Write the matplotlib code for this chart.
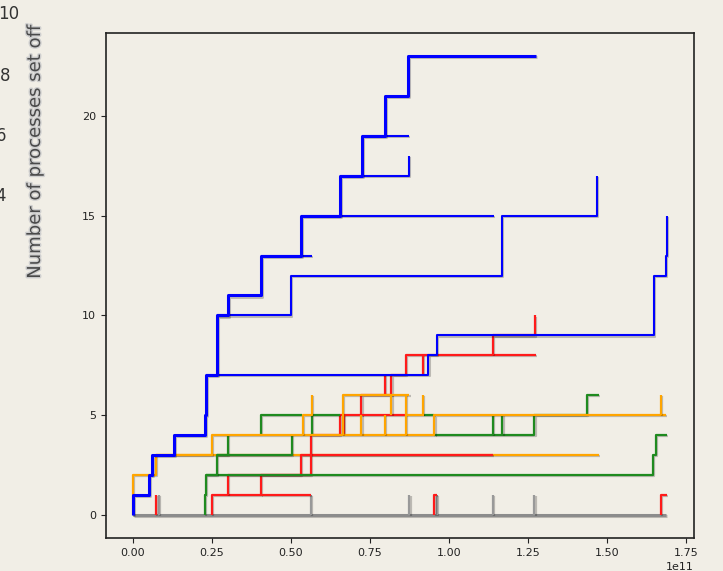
import matplotlib
matplotlib.use("Agg")
import matplotlib.pyplot as plt
import matplotlib.patheffects as pe

X_UNIT = 1e11  # x values below are in units of 1e11

# ---- grey (baseline + short ticks) ----
GREY_X = [[0, 1.687], [0.082, 0.082], [0.564, 0.564], [0.875, 0.875],
          [0.963, 0.963], [1.140, 1.140], [1.270, 1.270]]
GREY_Y = [[0, 0], [0, 1], [0, 1], [0, 1], [0, 1], [0, 1], [0, 1]]

# ---- orange, drawn underneath ----
ORANGE_LOW_X = [[0.072, 1.475]]
ORANGE_LOW_Y = [[3, 3]]

# ---- red ----
RED_X = [[0.072, 0.072],
         [0.250, 0.250, 0.404, 0.533, 1.140],
         [0.404, 0.564],
         [0.300, 0.300, 0.564, 0.654, 0.723, 0.818, 0.864, 1.276],
         [1.140, 1.140, 1.272],
         [0.669, 0.669],
         [0.796, 0.796],
         [0.917, 0.917],
         [0.723, 0.864],
         [0.954, 0.954, 0.963],
         [1.671, 1.671, 1.690]]
RED_Y = [[0, 1],
         [0, 1, 2, 3, 3],
         [1, 1],
         [1, 2, 4, 5, 6, 7, 8, 8],
         [8, 9, 10],
         [4, 5],
         [6, 7],
         [7, 8],
         [5, 5],
         [0, 1, 1],
         [0, 1, 1]]

# ---- green ----
GREEN_X = [[0.227, 0.227, 0.231, 1.646, 1.655, 1.688],
           [0.231, 0.266, 0.300],
           [0.266, 0.502],
           [0.404, 0.404, 0.534],
           [0.567, 0.567, 0.654],
           [0.922, 0.954],
           [0.954, 1.270, 1.437, 1.475],
           [1.140, 1.140],
           [1.169, 1.169]]
GREEN_Y = [[0, 1, 2, 3, 4, 4],
           [2, 3, 4],
           [3, 4],
           [4, 5, 5],
           [4, 5, 5],
           [5, 5],
           [4, 5, 6, 6],
           [4, 5],
           [4, 5]]

# ---- orange, drawn on top ----
ORANGE_X = [[0, 0, 0.072, 0.250, 0.954, 1.687],
            [0.537, 0.537, 0.567],
            [0.666, 0.666, 0.875],
            [0.723, 0.723],
            [0.796, 0.796],
            [0.864, 0.864],
            [0.818, 0.818],
            [0.917, 0.917],
            [0.864, 0.922],
            [1.671, 1.671]]
ORANGE_Y = [[0, 2, 3, 4, 5, 5],
            [4, 5, 6],
            [4, 6, 6],
            [4, 5],
            [4, 5],
            [4, 6],
            [5, 6],
            [5, 6],
            [5, 5],
            [5, 6]]

# ---- blue ----
BLUE_TRUNK_X = [0, 0, 0.051, 0.060, 0.129, 0.228, 0.231, 0.266, 0.300,
                0.404, 0.533, 0.654, 0.726, 0.796, 0.869, 1.276]
BLUE_TRUNK_Y = [0, 1, 2, 3, 4, 5, 7, 10, 11, 13, 15, 17, 19, 21, 23, 23]
BLUE_X = [[0.231, 0.935, 0.963, 1.649, 1.686, 1.689],
          [0.266, 0.501, 1.167, 1.468],
          [0.404, 0.567],
          [0.533, 1.143],
          [0.654, 0.872],
          [0.726, 0.872]]
BLUE_Y = [[7, 8, 9, 12, 13, 15],
          [10, 12, 15, 17],
          [13, 13],
          [15, 15],
          [17, 18],
          [19, 19]]

SIDE_LABELS = ["10", "8", "6", "4", "2"]
YLABEL = "Number of processes set off"

BG = "#f1eee6"
fig = plt.figure(figsize=(7.23, 5.71), dpi=100, facecolor=BG)
ax = fig.add_axes([106 / 723, 33 / 571, (694 - 106) / 723, (538 - 33) / 571])
ax.set_facecolor(BG)

shadow = [pe.SimpleLineShadow(offset=(0.8, -0.8), shadow_color="black", alpha=0.22),
          pe.Normal()]


def draw(xs_list, ys_list, color, lw, z):
    for xs, ys in zip(xs_list, ys_list):
        ax.plot([x * X_UNIT for x in xs], ys, drawstyle="steps-post",
                color=color, lw=lw, zorder=z, path_effects=shadow,
                solid_capstyle="butt")


draw(GREY_X[:1], GREY_Y[:1], "#8c8c8c", 2.2, 1)
draw(GREY_X[1:], GREY_Y[1:], "#999999", 1.6, 1)
draw(ORANGE_LOW_X, ORANGE_LOW_Y, "orange", 1.6, 2)
draw(RED_X, RED_Y, "#ff1a1a", 1.6, 3)
draw(GREEN_X, GREEN_Y, "#1f8a1f", 1.6, 4)
draw(ORANGE_X, ORANGE_Y, "orange", 1.6, 5)
draw(BLUE_X, BLUE_Y, "#0000ff", 1.5, 6)
draw([BLUE_TRUNK_X], [BLUE_TRUNK_Y], "#0000ff", 2.2, 7)

ax.set_yticks([0, 5, 10, 15, 20])
ax.tick_params(labelsize=8, colors="#222222")
ax.xaxis.get_offset_text().set_fontsize(8)
for s in ax.spines.values():
    s.set_color("#222222")
    s.set_linewidth(1.2)

halo = [pe.withStroke(linewidth=2, foreground="#cfcfcf")]
fig.text(35 / 723, 1 - 152 / 571, YLABEL, rotation=90, ha="center", va="center",
         fontsize=13, color="#4a4a4a", path_effects=halo)

side_pos = [(19, 14), (10.5, 76), (6.5, 136), (5.5, 196), (1.0, 256)]
for lab, (px, py) in zip(SIDE_LABELS, side_pos):
    fig.text(px / 723, 1 - py / 571, lab, ha="right", va="center",
             fontsize=12, color="#333333")

fig.savefig("out.png", dpi=100, facecolor=BG)
